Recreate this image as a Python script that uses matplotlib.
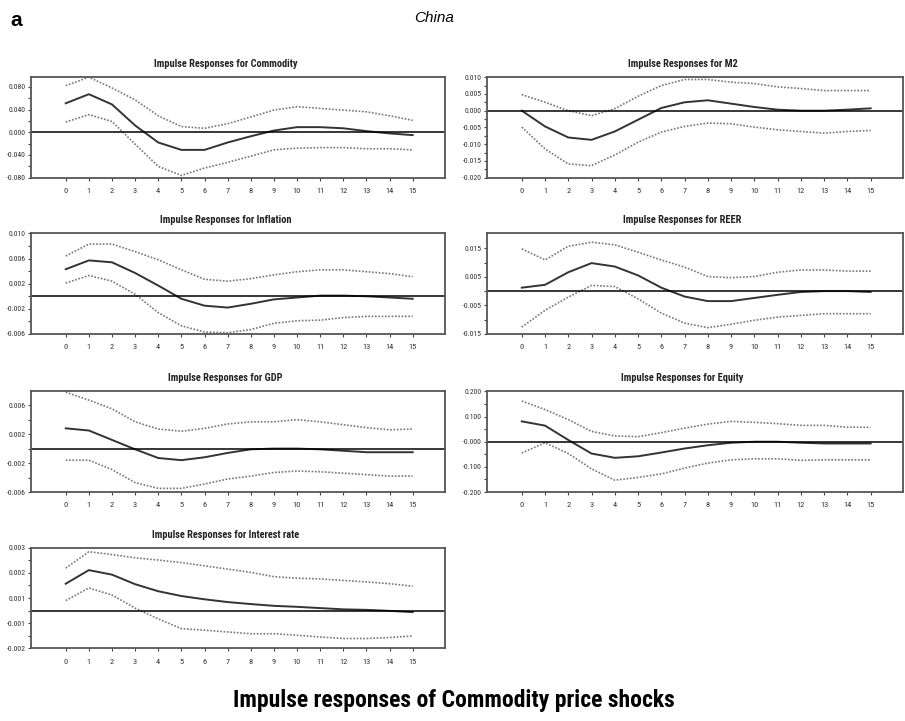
import matplotlib.pyplot as plt
from matplotlib.ticker import FixedLocator, NullFormatter

plt.rcParams["font.family"] = ["Roboto Condensed", "DejaVu Sans"]

horizon = list(range(16))

commodity_mid = [0.051, 0.067, 0.049, 0.012, -0.018, -0.031, -0.031, -0.018,
                 -0.007, 0.003, 0.009, 0.009, 0.007, 0.002, -0.002, -0.005]
commodity_hi = [0.082, 0.097, 0.078, 0.057, 0.029, 0.010, 0.007, 0.015,
                0.027, 0.039, 0.045, 0.042, 0.039, 0.036, 0.029, 0.021]
commodity_lo = [0.018, 0.031, 0.019, -0.021, -0.060, -0.076, -0.063, -0.053,
                -0.042, -0.031, -0.028, -0.027, -0.027, -0.029, -0.029, -0.031]

m2_mid = [0.0, -0.0047, -0.0080, -0.0087, -0.0062, -0.0027, 0.0008, 0.0025,
          0.0031, 0.0021, 0.0011, 0.0003, 0.0, 0.0, 0.0003, 0.0007]
m2_hi = [0.0048, 0.0025, 0.0, -0.0015, 0.0006, 0.0043, 0.0075, 0.0093,
         0.0093, 0.0085, 0.0081, 0.0071, 0.0066, 0.0060, 0.0060, 0.0060]
m2_lo = [-0.0049, -0.0114, -0.0159, -0.0164, -0.0132, -0.0094, -0.0064, -0.0047,
         -0.0037, -0.0039, -0.0049, -0.0057, -0.0062, -0.0067, -0.0062, -0.0059]

inflation_mid = [0.0043, 0.0057, 0.0054, 0.0037, 0.0017, -0.0004, -0.0015, -0.0018,
                 -0.0012, -0.0005, -0.0002, 0.0001, 0.0001, 0.0, -0.0002, -0.0004]
inflation_hi = [0.0064, 0.0083, 0.0083, 0.0071, 0.0058, 0.0042, 0.0027, 0.0024,
                0.0028, 0.0034, 0.0039, 0.0042, 0.0042, 0.0039, 0.0036, 0.0031]
inflation_lo = [0.0021, 0.0033, 0.0024, 0.0003, -0.0026, -0.0047, -0.0057, -0.0058,
                -0.0053, -0.0043, -0.0039, -0.0038, -0.0034, -0.0032, -0.0032, -0.0032]

reer_mid = [0.0012, 0.0022, 0.0066, 0.0098, 0.0086, 0.0055, 0.0012, -0.0019,
            -0.0035, -0.0035, -0.0024, -0.0013, -0.0003, 0.0, 0.0, -0.0003]
reer_hi = [0.0148, 0.0109, 0.0157, 0.0171, 0.0162, 0.0136, 0.0109, 0.0084,
           0.0051, 0.0047, 0.0051, 0.0066, 0.0074, 0.0074, 0.0070, 0.0070]
reer_lo = [-0.0126, -0.0067, -0.0021, 0.0020, 0.0016, -0.0027, -0.0077, -0.0112,
           -0.0128, -0.0116, -0.0102, -0.0091, -0.0085, -0.0079, -0.0079, -0.0079]

gdp_mid = [0.0028, 0.0025, 0.0012, -0.0001, -0.0013, -0.0016, -0.0012, -0.0006,
           -0.0001, 0.0, 0.0, -0.0001, -0.0003, -0.0005, -0.0005, -0.0005]
gdp_hi = [0.0078, 0.0067, 0.0055, 0.0037, 0.0027, 0.0024, 0.0028, 0.0034,
          0.0037, 0.0037, 0.0040, 0.0037, 0.0033, 0.0029, 0.0026, 0.0027]
gdp_lo = [-0.0016, -0.0016, -0.0029, -0.0047, -0.0055, -0.0055, -0.0049, -0.0042,
          -0.0038, -0.0033, -0.0031, -0.0032, -0.0034, -0.0036, -0.0038, -0.0038]

equity_mid = [0.081, 0.064, 0.007, -0.047, -0.064, -0.058, -0.043, -0.027,
              -0.014, -0.004, 0.0, 0.0, -0.004, -0.007, -0.007, -0.007]
equity_hi = [0.162, 0.128, 0.088, 0.041, 0.023, 0.020, 0.036, 0.054,
             0.070, 0.081, 0.077, 0.072, 0.065, 0.065, 0.058, 0.057]
equity_lo = [-0.045, -0.004, -0.047, -0.108, -0.153, -0.142, -0.128, -0.105,
             -0.085, -0.072, -0.068, -0.068, -0.074, -0.072, -0.072, -0.072]

rate_mid = [0.00107, 0.00161, 0.00143, 0.00105, 0.00077, 0.00058, 0.00045, 0.00034,
            0.00026, 0.00019, 0.00015, 0.00010, 0.00005, 0.00003, -0.00001, -0.00006]
rate_hi = [0.00169, 0.00234, 0.00223, 0.00210, 0.00201, 0.00191, 0.00178, 0.00165,
           0.00152, 0.00135, 0.00129, 0.00126, 0.00120, 0.00114, 0.00107, 0.00097]
rate_lo = [0.00040, 0.00090, 0.00062, 0.00010, -0.00033, -0.00072, -0.00078, -0.00085,
           -0.00092, -0.00092, -0.00098, -0.00105, -0.00111, -0.00111, -0.00107, -0.00101]

commodity_ticks = [0.08, 0.04, 0.0, -0.04, -0.08]
commodity_labels = ["0.080", "0.040", "0.000", "-0.040", "-0.080"]
m2_ticks = [0.010, 0.005, 0.0, -0.005, -0.010, -0.015, -0.020]
m2_labels = ["0.010", "0.005", "0.000", "-0.005", "-0.010", "-0.015", "-0.020"]
inflation_ticks = [0.010, 0.006, 0.002, -0.002, -0.006]
inflation_labels = ["0.010", "0.006", "0.002", "-0.002", "-0.006"]
reer_ticks = [0.015, 0.005, -0.005, -0.015]
reer_labels = ["0.015", "0.005", "-0.005", "-0.015"]
gdp_ticks = [0.006, 0.002, -0.002, -0.006]
gdp_labels = ["0.006", "0.002", "-0.002", "-0.006"]
equity_ticks = [0.2, 0.1, 0.0, -0.1, -0.2]
equity_labels = ["0.200", "0.100", "-0.000", "-0.100", "-0.200"]
rate_ticks = [0.0025, 0.0015, 0.0005, -0.0005, -0.0015]
rate_labels = ["0.003", "0.002", "0.001", "-0.001", "-0.002"]

panels = [
    ("Commodity", commodity_mid, commodity_hi, commodity_lo,
     commodity_ticks, commodity_labels, (-0.08, 0.097), 0, 0),
    ("M2", m2_mid, m2_hi, m2_lo, m2_ticks, m2_labels, (-0.020, 0.010), 0, 1),
    ("Inflation", inflation_mid, inflation_hi, inflation_lo,
     inflation_ticks, inflation_labels, (-0.006, 0.010), 1, 0),
    ("REER", reer_mid, reer_hi, reer_lo, reer_ticks, reer_labels, (-0.015, 0.0202), 1, 1),
    ("GDP", gdp_mid, gdp_hi, gdp_lo, gdp_ticks, gdp_labels, (-0.006, 0.0079), 2, 0),
    ("Equity", equity_mid, equity_hi, equity_lo,
     equity_ticks, equity_labels, (-0.2, 0.2), 2, 1),
    ("Interest rate", rate_mid, rate_hi, rate_lo,
     rate_ticks, rate_labels, (-0.0015, 0.0025), 3, 0),
]

row_bottoms = [0.7535, 0.5368, 0.3176, 0.1008]
row_height = 0.1395
col_lefts = [0.0343, 0.538]
col_widths = [0.4575, 0.460]

fig = plt.figure(figsize=(9.05, 7.21), dpi=100)

for name, mid, hi, lo, ticks, labels, ylim, row, col in panels:
    ax = fig.add_axes([col_lefts[col], row_bottoms[row], col_widths[col], row_height])
    ax.plot(horizon, hi, color="#777777", linestyle=(0, (1, 1)), linewidth=1.2)
    ax.plot(horizon, lo, color="#777777", linestyle=(0, (1, 1)), linewidth=1.2)
    ax.plot(horizon, mid, color="#333333", linewidth=1.4)
    ax.axhline(0, color="black", linewidth=1.1)

    ax.set_xlim(-1.5, 16.4)
    ax.set_ylim(*ylim)
    ax.set_xticks(horizon)
    ax.set_xticklabels([str(h) for h in horizon], fontsize=6, color="#333333")
    ax.yaxis.set_major_locator(FixedLocator(ticks))
    ax.set_yticklabels(labels, fontsize=5.6, color="#333333")
    minor = [(a + b) / 2 for a, b in zip(ticks[:-1], ticks[1:])]
    ax.yaxis.set_minor_locator(FixedLocator(minor))
    ax.yaxis.set_minor_formatter(NullFormatter())
    ax.tick_params(axis="both", which="both", direction="out", length=2.5,
                   width=0.8, color="#444444", pad=1.5)
    ax.tick_params(axis="x", pad=5)
    for s in ax.spines.values():
        s.set_color("#555555")
        s.set_linewidth(1.3)

    ax.text(0.47, 1.08, "Impulse Responses for " + name, transform=ax.transAxes,
            ha="center", va="bottom", fontsize=7.5, fontweight="bold", color="#222222")

fig.text(0.012, 0.985, "a", fontsize=15, fontweight="bold", ha="left", va="top",
         family=["Liberation Sans", "DejaVu Sans"])
fig.text(0.48, 0.985, "China", fontsize=11, style="italic", ha="center", va="top",
         family=["Liberation Sans", "DejaVu Sans"])
fig.text(0.502, 0.028, "Impulse responses of Commodity price shocks", fontsize=17,
         fontweight="bold", ha="center", va="center")

plt.savefig("out.png", dpi=100)
